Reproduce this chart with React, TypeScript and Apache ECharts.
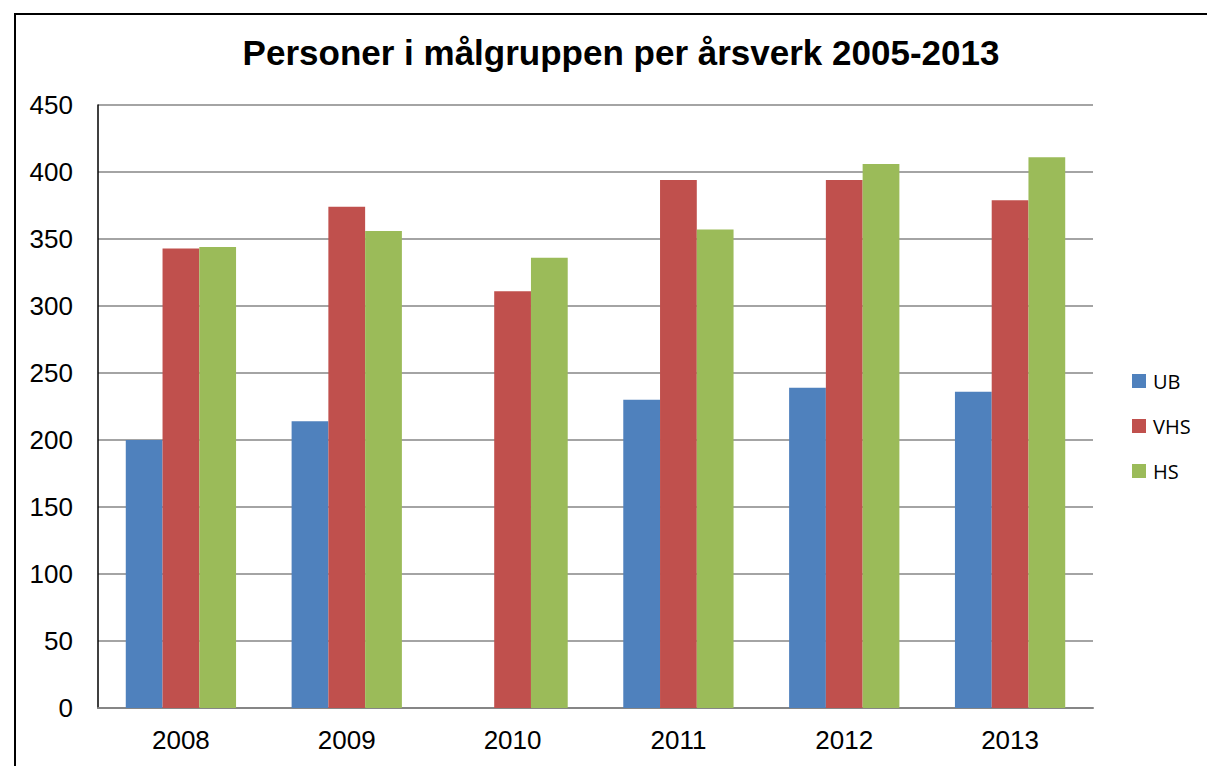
import React, { useEffect, useRef } from "react";
import * as echarts from "echarts";

const categories = ["2008", "2009", "2010", "2011", "2012", "2013"];
const ubValues: (number | null)[] = [200, 214, null, 230, 239, 236];
const vhsValues = [343, 374, 311, 394, 394, 379];
const hsValues = [344, 356, 336, 357, 406, 411];
const yTicks = { min: 0, max: 450, interval: 50 };
const titleText = "Personer i målgruppen per årsverk 2005-2013";

const FONT = "'Liberation Sans', Arial, sans-serif";

export default function App() {
  const ref = useRef<HTMLDivElement>(null);
  useEffect(() => {
    if (!ref.current) return;
    const chart = echarts.init(ref.current, undefined, { renderer: "svg" });
    chart.setOption({
      animation: false,
      backgroundColor: "#ffffff",
      title: {
        text: titleText,
        left: 616,
        textAlign: "center",
        top: 30,
        textStyle: { fontFamily: FONT, fontSize: 35, fontWeight: "bold", color: "#000" },
      },
      legend: {
        orient: "vertical",
        left: 1127,
        top: 366,
        padding: 5,
        itemWidth: 14,
        itemHeight: 14,
        itemGap: 25,
        icon: "rect",
        textStyle: { fontFamily: "'Open Sans', 'Noto Sans', sans-serif", fontSize: 20, lineHeight: 20, color: "#000", padding: [0, 0, 0, 2] },
        data: ["UB", "VHS", "HS"],
      },
      grid: { left: 98, right: 114, top: 105, bottom: 58, containLabel: false },
      xAxis: {
        type: "category",
        data: categories,
        axisLine: { show: true, lineStyle: { color: "#868686", width: 2 } },
        axisTick: { show: false },
        axisLabel: { fontFamily: FONT, fontSize: 26, color: "#000", margin: 19 },
      },
      yAxis: {
        type: "value",
        min: yTicks.min,
        max: yTicks.max,
        interval: yTicks.interval,
        axisLine: { show: true, lineStyle: { color: "#000", width: 1.5 } },
        axisTick: { show: false },
        splitLine: { show: true, lineStyle: { color: "#868686", width: 1.5 } },
        axisLabel: { fontFamily: FONT, fontSize: 26, color: "#000", margin: 25 },
      },
      series: [
        { name: "UB", type: "bar", data: ubValues, itemStyle: { color: "#4F81BD" }, barGap: "0%", barCategoryGap: "33.5%" },
        { name: "VHS", type: "bar", data: vhsValues, itemStyle: { color: "#C0504D" }, barGap: "0%", barCategoryGap: "33.5%" },
        { name: "HS", type: "bar", data: hsValues, itemStyle: { color: "#9BBB59" }, barGap: "0%", barCategoryGap: "33.5%" },
      ],
      graphic: [
        {
          type: "rect",
          shape: { x: 15, y: 14, width: 1220, height: 780 },
          style: { fill: "none", stroke: "#000", lineWidth: 2 },
          silent: true,
        },
      ],
    });
    return () => chart.dispose();
  }, []);
  return (
    <div
      ref={ref}
      style={{ position: "fixed", left: 0, top: 0, width: 1207, height: 766 }}
    />
  );
}
